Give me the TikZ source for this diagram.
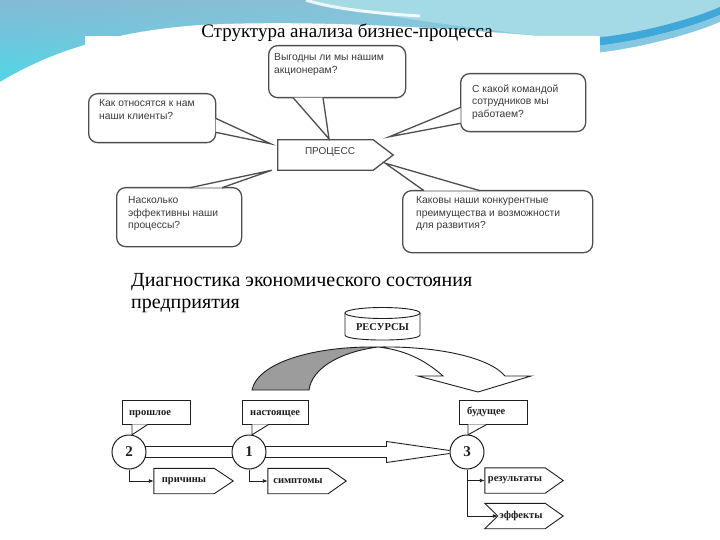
\documentclass[tikz,border=0pt]{standalone}
\usepackage{fontspec}
\setmainfont{Liberation Serif}
\newfontfamily\sansf{Liberation Sans}
\usetikzlibrary{calc,arrows.meta,shadings}
\definecolor{bubline}{HTML}{4E4E4E}
\definecolor{bubtext}{HTML}{3A3A3A}
\definecolor{bgA}{HTML}{84BAD3}
\definecolor{bgB}{HTML}{8EC6DA}
\definecolor{bgC}{HTML}{4ADAEB}
\definecolor{bgD}{HTML}{9AD4E2}
\definecolor{bgLight}{HTML}{A3DAE5}
\definecolor{stripeDark}{HTML}{3FA8D8}
\definecolor{stripeLight}{HTML}{86C8E2}
\definecolor{ink}{HTML}{1E1E1E}
\definecolor{ribbon}{HTML}{9C9C9C}
\begin{document}
\begin{tikzpicture}[x=1pt,y=-1pt,
  bub/.style={draw=bubline, line width=1.3pt, fill=white, rounded corners=9pt, inner sep=0pt},
  tail/.style={fill=white, draw=bubline, line width=1.3pt, line join=miter},
  btxt/.style={font=\sansf\fontsize{10.3}{12.5}\selectfont, text=bubtext, align=left, anchor=north west, inner sep=0pt},
  ln/.style={draw=ink, line width=0.9pt},
  lbox/.style={draw=ink, line width=0.9pt, fill=white, inner sep=0pt},
  ctail/.style={fill=white, draw=ink, line width=0.9pt, line join=miter},
  stxt/.style={font=\bfseries\fontsize{10.5}{13}\selectfont, text=ink, inner sep=0pt},
  num/.style={circle, draw=ink, line width=1pt, fill=white, minimum size=34pt, inner sep=0pt, font=\bfseries\fontsize{15}{15}\selectfont, text=ink},
  outbox/.style={minimum width=#1, minimum height=25pt, inner sep=0pt, font=\bfseries\fontsize{10.5}{13}\selectfont, text=ink},
  conn/.style={ln, -{Latex[length=5pt,width=4pt]}},
]
\useasboundingbox (0,0) rectangle (720,540);
% ---------- background ----------
\fill[white] (0,0) rectangle (720,540);
\shade[upper left=bgA, upper right=bgB, lower left=bgC, lower right=bgD] (0,0) rectangle (720,95);
\fill[bgLight] (312,0) .. controls (350,12) and (440,24) .. (540,36) -- (720,36) -- (720,0) -- cycle;
\draw[white, line width=3pt, opacity=0.85] (306,0) .. controls (330,8) and (370,13) .. (420,16);
\fill[stripeDark] (596,38) .. controls (640,33) and (690,20) .. (720,7) -- (720,15) .. controls (690,28) and (640,41) .. (596,46) -- cycle;
\fill[stripeLight] (596,46) .. controls (640,41) and (690,28) .. (720,15) -- (720,22) .. controls (690,35) and (640,48) .. (596,53) -- cycle;
\fill[white] (0,540) -- (0,82) .. controls (40,58) and (100,32) .. (200,25) .. controls (300,20) and (420,26) .. (540,36) -- (596,36) -- (596,53) .. controls (640,48) and (690,35) .. (720,22) -- (720,540) -- cycle;
\fill[white] (85,36) rectangle (600,268);

% ---------- titles ----------
\node[anchor=base, inner sep=0pt, font=\fontsize{19}{22}\selectfont] (title1) at (347,38) {Структура анализа бизнес-процесса};
\node[anchor=base west, inner sep=0pt, font=\fontsize{20}{21}\selectfont] (title2a) at (131,286) {Диагностика экономического состояния};
\node[anchor=base west, inner sep=0pt, font=\fontsize{20}{21}\selectfont] (title2b) at (131,308) {предприятия};

% ---------- top diagram ----------
\node[bub, minimum width=137pt, minimum height=52pt, anchor=north west] (qa) at (268,45) {};
\node[bub, minimum width=127pt, minimum height=49pt, anchor=north west] (qb) at (88,93) {};
\node[bub, minimum width=125pt, minimum height=58pt, anchor=north west] (qc) at (460,73) {};
\node[bub, minimum width=125pt, minimum height=59pt, anchor=north west] (qd) at (116,187) {};
\node[bub, minimum width=190pt, minimum height=62pt, anchor=north west] (qe) at (402,190) {};

\node[minimum width=95pt, minimum height=30pt, inner sep=0pt] (proc) at (325.5,155) {};
\draw[draw=bubline, line width=1.3pt, fill=white, line join=miter] (proc.north west) -- (proc.north east) -- ($(proc.east)+(20,0)$) -- (proc.south east) -- (proc.south west) -- cycle;
\node[font=\sansf\fontsize{10}{12}\selectfont, text=bubtext, inner sep=0pt] (proct) at ($(proc.center)+(4.5,-3)$) {ПРОЦЕСС};

\coordinate (ta) at ($(proc.north)+(3.5,-1)$);
\coordinate (tb) at ($(proc.north west)+(-7,4)$);
\coordinate (tc) at ($(proc.north east)+(16,-3)$);
\coordinate (td) at ($(proc.south west)+(-6,0)$);
\coordinate (te) at ($(proc.south east)+(12,-7)$);

\filldraw[tail] ($(qa.south west)+(25,-0.7)$) -- (ta) -- ($(qa.south west)+(55,-0.7)$);
\filldraw[tail] ($(qb.south east)+(-0.7,-25)$) -- (tb) -- ($(qb.south east)+(-0.7,-11)$);
\filldraw[tail] ($(qc.south west)+(0.7,-25)$) -- (tc) -- ($(qc.south west)+(0.7,-9)$);
\filldraw[tail] ($(qd.north west)+(74,0.7)$) -- (td) -- ($(qd.north west)+(106,0.7)$);
\filldraw[tail] ($(qe.north west)+(22,0.7)$) -- (te) -- ($(qe.north west)+(78,0.7)$);

\node[btxt] (qat) at (274,53.4) {Выгодны ли мы нашим\\акционерам?};
\node[btxt] (qbt) at (99,99.4) {Как относятся к нам\\наши клиенты?};
\node[btxt] (qct) at (472,84.4) {С какой командой\\сотрудников мы\\работаем?};
\node[btxt] (qdt) at (128,196.4) {Насколько\\эффективны наши\\процессы?};
\node[btxt] (qet) at (416,196.4) {Каковы наши конкурентные\\преимущества и возможности\\для развития?};

% ---------- lower diagram ----------
% resources cylinder
\filldraw[ln, fill=white] (345,313) -- (345,335) .. controls (345,341.7) and (420,341.7) .. (420,335) -- (420,313);
\draw[ln, fill=white] (382.5,313) ellipse [x radius=37.5, y radius=5.5];
\node[stxt] (res) at (382.5,327.5) {РЕСУРСЫ};

% ribbon arrow
\filldraw[ln, fill=ribbon] (252,390) .. controls (258,362) and (315,346) .. (378,347) .. controls (340,352) and (312,368) .. (309,390) -- cycle;
\filldraw[ln, fill=white, line join=miter] (378,347) .. controls (440,346) and (490,358) .. (505,376) -- (531,376) -- (478,392) -- (418,376) -- (443,376) .. controls (425,360) and (405,350) .. (378,347) -- cycle;

% circles
\node[num] (c2) at (129,452) {2};
\node[num] (c1) at (249,452) {1};
\node[num] (c3) at (467,452) {3};

% double lines
\draw[ln] ($(c2.center)+(16.1,-5.5)$) -- ($(c1.center)+(-16.1,-5.5)$);
\draw[ln] ($(c2.center)+(16.1,5.5)$) -- ($(c1.center)+(-16.1,5.5)$);
\coordinate (barb) at ($(c3.west)+(-63,0)$);
\draw[ln, line join=miter] ($(c1.center)+(16.1,-5.5)$) -- ($(barb)+(0,-5.5)$) -- ($(barb)+(0,-10.5)$) -- ($(c3.west)+(0,-1.5)$);
\draw[ln, line join=miter] ($(c1.center)+(16.1,5.5)$) -- ($(barb)+(0,5.5)$) -- ($(barb)+(0,10.5)$) -- ($(c3.west)+(0,1.5)$);

% callouts
\node[lbox, minimum width=68pt, minimum height=24pt, anchor=north west] (l2) at (122,400) {};
\node[lbox, minimum width=66pt, minimum height=24pt, anchor=north west] (l1) at (242,400) {};
\node[lbox, minimum width=68pt, minimum height=24pt, anchor=north west] (l3) at (459,400) {};
\filldraw[ctail] ($(l2.south west)+(10,-0.6)$) -- ($(c2.north)+(3,0.3)$) -- ($(l2.south west)+(26,-0.6)$);
\filldraw[ctail] ($(l1.south west)+(10,-0.6)$) -- ($(c1.north)+(3,0.3)$) -- ($(l1.south west)+(27,-0.6)$);
\filldraw[ctail] ($(l3.south west)+(9,-0.6)$) -- ($(c3.north)+(1,0.3)$) -- ($(l3.south west)+(28,-0.6)$);
\node[stxt, anchor=base west] (l2t) at (129,415) {прошлое};
\node[stxt, anchor=base west] (l1t) at (250,415) {настоящее};
\node[stxt, anchor=base west] (l3t) at (467,414) {будущее};

% output boxes
\node[outbox=60pt] (o2) at (184,481) {причины};
\node[outbox=60pt] (o1) at (298,481) {симптомы};
\node[outbox=60pt] (o3a) at (515,480.5) {результаты};
\node[outbox=60pt] (o3b) at (515,516) {};
\node[stxt] (o3bt) at ($(o3b.center)+(6,0)$) {эффекты};
\draw[ln, line join=miter] (o2.north west) -- (o2.north east) -- ($(o2.east)+(19,0)$) -- (o2.south east) -- (o2.south west) -- cycle;
\draw[ln, line join=miter] (o1.north west) -- (o1.north east) -- ($(o1.east)+(18,0)$) -- (o1.south east) -- (o1.south west) -- cycle;
\draw[ln, line join=miter] (o3a.north west) -- (o3a.north east) -- ($(o3a.east)+(18,0)$) -- (o3a.south east) -- (o3a.south west) -- cycle;
\coordinate (notch) at ($(o3b.west)+(13,0)$);
\draw[ln, line join=miter] (o3b.north west) -- (o3b.north east) -- ($(o3b.east)+(18,0)$) -- (o3b.south east) -- (o3b.south west) -- (notch) -- cycle;

% connectors
\draw[conn] (c2.south) |- (o2.west);
\draw[conn] (c1.south) |- (o1.west);
\draw[conn] (c3.south) |- (o3a.west);
\draw[conn] (c3.south) |- (notch);
\end{tikzpicture}
\end{document}
